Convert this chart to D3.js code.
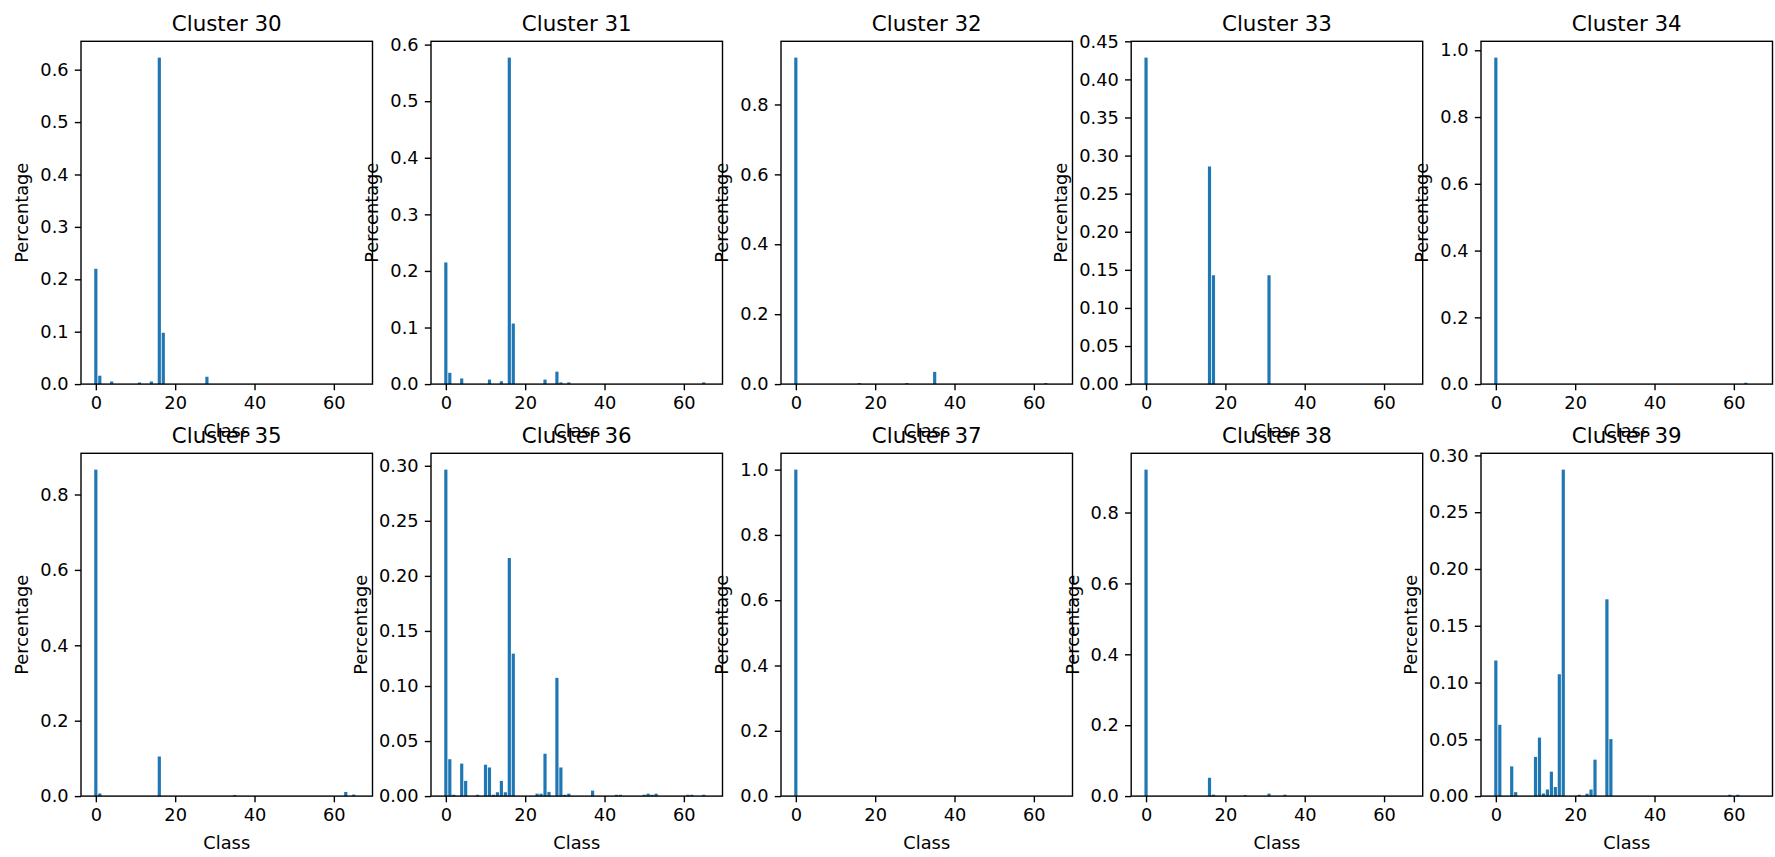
<!DOCTYPE html>
<html>
<head>
<meta charset="utf-8">
<script src="https://cdn.jsdelivr.net/npm/d3@7"></script>
<style>
  html, body { margin: 0; padding: 0; background: #fff; }
  svg { display: block; }
  text { font-family: "DejaVu Sans", sans-serif; fill: #000; }
</style>
</head>
<body>
<svg id="chart" width="1775" height="857"></svg>
<script>
// ---------------- data ----------------
const classes = d3.range(0, 67);
const xTickValues = [0, 20, 40, 60];
const clusterNames = ["Cluster 30", "Cluster 31", "Cluster 32", "Cluster 33", "Cluster 34",
                      "Cluster 35", "Cluster 36", "Cluster 37", "Cluster 38", "Cluster 39"];

// [class, percentage] for the non-zero classes of each cluster
const cluster30 = [[0,0.220],[1,0.016],[4,0.005],[11,0.003],[14,0.005],[16,0.623],[17,0.098],[28,0.014]];
const cluster31 = [[0,0.215],[1,0.020],[4,0.010],[11,0.008],[14,0.005],[16,0.577],[17,0.107],[25,0.008],
                   [28,0.022],[29,0.003],[31,0.003],[65,0.003]];
const cluster32 = [[0,0.934],[16,0.003],[28,0.003],[35,0.035],[63,0.003]];
const cluster33 = [[0,0.4286],[16,0.2857],[17,0.1429],[31,0.1429]];
const cluster34 = [[0,0.978],[63,0.004]];
const cluster35 = [[0,0.866],[1,0.007],[16,0.105],[35,0.003],[63,0.011],[65,0.004]];
const cluster36 = [[0,0.2965],[1,0.0335],[2,0.0012],[4,0.0295],[5,0.0138],[8,0.0012],[10,0.0285],[11,0.026],
                   [12,0.0012],[13,0.0035],[14,0.0138],[15,0.0035],[16,0.2162],[17,0.1294],[23,0.0022],
                   [24,0.0022],[25,0.0385],[26,0.0038],[28,0.1074],[29,0.026],[30,0.0012],[31,0.0022],
                   [37,0.005],[43,0.0012],[44,0.0012],[50,0.0012],[51,0.0022],[52,0.0012],[53,0.0022],
                   [61,0.0012],[62,0.0012],[65,0.0012]];
const cluster37 = [[0,1.0]];
const cluster38 = [[0,0.921],[16,0.0517],[17,0.004],[25,0.003],[31,0.007],[35,0.004]];
const cluster39 = [[0,0.1194],[1,0.0628],[4,0.0262],[5,0.0035],[10,0.0345],[11,0.0515],[12,0.0023],
                   [13,0.0058],[14,0.0215],[15,0.008],[16,0.1073],[17,0.2875],[21,0.0012],[23,0.0021],
                   [24,0.0058],[25,0.0321],[28,0.1733],[29,0.0502],[59,0.0012],[61,0.0012]];

const yTicksA = ["0.0","0.1","0.2","0.3","0.4","0.5","0.6"];
const yTicksB = ["0.0","0.2","0.4","0.6","0.8"];
const yTicksC = ["0.00","0.05","0.10","0.15","0.20","0.25","0.30","0.35","0.40","0.45"];
const yTicksD = ["0.0","0.2","0.4","0.6","0.8","1.0"];
const yTicksE = ["0.00","0.05","0.10","0.15","0.20","0.25","0.30"];

const seriesList = [cluster30, cluster31, cluster32, cluster33, cluster34,
                    cluster35, cluster36, cluster37, cluster38, cluster39];
const yTickList = [yTicksA, yTicksA, yTicksB, yTicksC, yTicksD,
                   yTicksB, yTicksE, yTicksD, yTicksB, yTicksE];

// ---------------- layout ----------------
const svg = d3.select("#chart");
const W = 291.5, H = 342.8;
const lefts = [81, 431, 781, 1131.2, 1481];
const tops = [41.3, 453.3];
const fs = 17.8, titleFs = 21.4;
const tickLen = 6.2;
const barColor = "#1f77b4";
const barWidth = 0.8;

const xMin = d3.min(classes) - barWidth / 2, xMax = d3.max(classes) + barWidth / 2;
const xPad = (xMax - xMin) * 0.05;

seriesList.forEach((data, i) => {
  const col = i % 5, row = Math.floor(i / 5);
  const g = svg.append("g").attr("transform", `translate(${lefts[col]},${tops[row]})`);

  const x = d3.scaleLinear().domain([xMin - xPad, xMax + xPad]).range([0, W]);
  const yMax = d3.max(data, d => d[1]) * 1.05;
  const y = d3.scaleLinear().domain([0, yMax]).range([H, 0]);

  // bars
  g.selectAll("rect.bar").data(data).join("rect")
    .attr("class", "bar")
    .attr("x", d => x(d[0] - barWidth / 2))
    .attr("width", d => x(d[0] + barWidth / 2) - x(d[0] - barWidth / 2))
    .attr("y", d => y(d[1]))
    .attr("height", d => y(0) - y(d[1]))
    .attr("fill", barColor);

  // x axis
  const xAxis = g.append("g").attr("transform", `translate(0,${H})`)
    .call(d3.axisBottom(x).tickValues(xTickValues).tickFormat(d3.format("d"))
      .tickSize(tickLen).tickPadding(6.2));
  // y axis
  const labels = yTickList[i];
  const yAxis = g.append("g")
    .call(d3.axisLeft(y).tickValues(labels.map(Number)).tickFormat((d, k) => labels[k])
      .tickSize(tickLen).tickPadding(6.2));

  [xAxis, yAxis].forEach(a => {
    a.attr("font-family", null).attr("font-size", null);
    a.select(".domain").remove();
    a.selectAll(".tick line").attr("stroke", "#000").attr("stroke-width", 1.4);
    a.selectAll(".tick text").style("font-size", fs + "px").attr("fill", "#000");
  });

  // frame (spines)
  g.append("rect").attr("x", 0).attr("y", 0).attr("width", W).attr("height", H)
    .attr("fill", "none").attr("stroke", "#000").attr("stroke-width", 1.4);

  // title
  g.append("text").attr("x", W / 2).attr("y", -10.7)
    .attr("text-anchor", "middle").style("font-size", titleFs + "px")
    .text(clusterNames[i]);

  // x label
  g.append("text").attr("x", W / 2).attr("y", H + 53)
    .attr("text-anchor", "middle").style("font-size", fs + "px")
    .text("Class");

  // y label
  const bb = yAxis.node().getBBox();
  const lx = bb.x - 12;
  g.append("text").attr("transform", `translate(${lx},${H / 2}) rotate(-90)`)
    .attr("text-anchor", "middle").style("font-size", fs + "px")
    .text("Percentage");
});
</script>
</body>
</html>
